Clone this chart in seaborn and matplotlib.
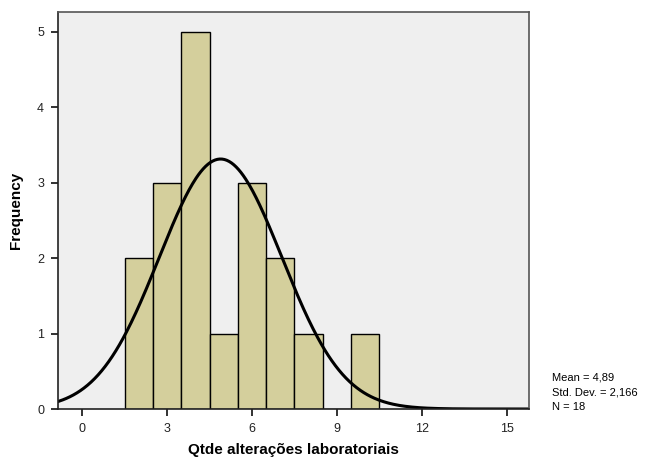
import numpy as np
import pandas as pd
import matplotlib
matplotlib.use("Agg")
import matplotlib.pyplot as plt
import seaborn as sns

values = [2, 3, 4, 5, 6, 7, 8, 9, 10]
counts = [2, 3, 5, 1, 3, 2, 1, 0, 1]
mean_val = 4.89
std_val = 2.166
n_val = 18
xticks = [0, 3, 6, 9, 12, 15]
yticks = [0, 1, 2, 3, 4, 5]

sns.set_style("white")
plt.rcParams['font.family'] = ['Liberation Sans', 'DejaVu Sans']
plt.rcParams['text.color'] = 'black'
plt.rcParams['axes.labelcolor'] = 'black'
plt.rcParams['xtick.color'] = 'black'
plt.rcParams['ytick.color'] = 'black'

fig = plt.figure(figsize=(6.48, 4.61), dpi=100)
ax = fig.add_axes([58/648, 1-409/461, (529-58)/648, (409-12)/461])
ax.set_facecolor('#efefef')

# expand counts into raw observations
obs = np.repeat(np.array(values, dtype=float), counts)
sns.histplot(x=obs, discrete=True, ax=ax, color='#d4cf9c',
             edgecolor='black', linewidth=1.0, alpha=1)

xmin, xmax = -0.85, 15.78
xs = np.linspace(xmin, xmax, 400)
ys = n_val * 1.0 / (std_val * np.sqrt(2 * np.pi)) * np.exp(-(xs - mean_val) ** 2 / (2 * std_val ** 2))
sns.lineplot(x=xs, y=ys, ax=ax, color='black', linewidth=2.2)

ax.set_xlim(xmin, xmax)
ax.set_ylim(0, 5.265)
ax.set_xticks(xticks)
ax.set_yticks(yticks)
ax.tick_params(axis='both', direction='out', length=5, width=1.3, color='#222222',
               labelsize=9, pad=5, bottom=True, left=True, labelcolor='#222222')
for s in ax.spines.values():
    s.set_color('#555555')
    s.set_linewidth(1.2)
ax.spines['left'].set_color('#222222')
ax.spines['bottom'].set_color('#222222')

ax.set_xlabel('Qtde alterações laboratoriais', fontsize=11, fontweight='bold', labelpad=6)
ax.set_ylabel('Frequency', fontsize=11, fontweight='bold', labelpad=10)

fig.text(552/648, 1-377/461, 'Mean = 4,89', fontsize=8, va='center', ha='left')
fig.text(552/648, 1-392/461, 'Std. Dev. = 2,166', fontsize=8, va='center', ha='left')
fig.text(552/648, 1-407/461, 'N = 18', fontsize=8, va='center', ha='left')

fig.savefig('out.png', dpi=100)
